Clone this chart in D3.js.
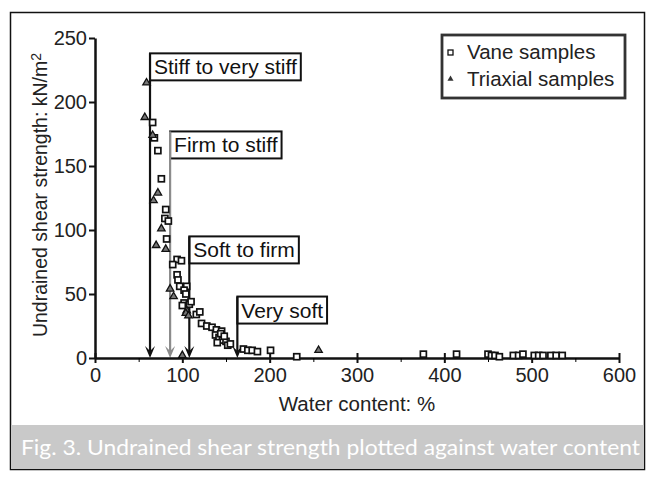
<!DOCTYPE html>
<html>
<head>
<meta charset="utf-8">
<script src="https://cdn.jsdelivr.net/npm/d3@7"></script>
<style>
  body { margin: 0; background: #fff; }
  svg { display: block; }
</style>
</head>
<body>
<div id="chart"></div>
<script>
// water content (%), undrained shear strength (kN/m2)
const vane = [
  [66,184],[68,172],[72,162],[76,140],[81,116],[80,109],[84,107],[82,93],
  [94,77],[99,76],[89,73],[94,65],[95,61],[97,56],[105,56],[102,53],[104,50],
  [102,43],[108,42],[100,41],[110,44],[116,34],[120,36],[122,27],[128,25],
  [134,24],[139,22],[145,21],[138,18],[142,16],[146,14],[140,12],[150,13],
  [152,10],[144,19],[148,17],[155,11],
  [170,7],[175,6],[180,6],[186,5],[201,6],[231,1],[376,3],[414,3],
  [450,3],[454,2],[458,2],[463,1],[479,2],[485,2],[490,3],[503,2],[508,2],
  [513,2],[522,2],[528,2],[535,2]
];
const triaxial = [
  [59,215],[57,188],[66,174],[72,129],[67,123],[76,101],[70,88],[81,85],
  [86,54],[90,48],[105,37],[104,35],[107,33],[100,2],[256,6]
];
const xTicks = [0,100,200,300,400,500,600];
const xMinor = [50,150,250,350,450,550];
const yTicks = [0,50,100,150,200,250];
const zoneNames = ["Stiff to very stiff","Firm to stiff","Soft to firm","Very soft"];
const zoneWater = [63,86,108,163];
const zoneTop = [238,177,95,48];

const width = 655, height = 480;
const svg = d3.select("#chart").append("svg")
  .attr("width", width).attr("height", height);

const x = d3.scaleLinear().domain([0,600]).range([95,619]);
const y = d3.scaleLinear().domain([0,250]).range([358,38]);

// frame and caption band
svg.append("rect").attr("x",10.5).attr("y",12.5).attr("width",634).attr("height",457)
  .attr("fill","none").attr("stroke","#111").attr("stroke-width",1.5);
svg.append("rect").attr("x",11).attr("y",425).attr("width",633).attr("height",44)
  .attr("fill","#c9c9c9");
svg.append("text").attr("x",21).attr("y",455)
  .style("font-family","Lato, 'Open Sans', sans-serif").style("font-size","22px")
  .attr("fill","#fff").attr("textLength",619).attr("lengthAdjust","spacingAndGlyphs")
  .text("Fig. 3.  Undrained shear strength plotted against water content");

const font = "'Liberation Sans', Arial, sans-serif";

// zone lines, arrows and labelled boxes
const arrow = "M-5,-12 L0,0 L5,-12 L0,-7 Z";
zoneNames.forEach((name, i) => {
  const lx = x(zoneWater[i]);
  const top = y(zoneTop[i]);
  const col = i === 1 ? "#8c8c8c" : "#111";
  const t = svg.append("text").attr("x", lx + 4).attr("y", top + 21)
    .style("font-family", font).style("font-size","21px").attr("fill","#111")
    .text(name);
  const w = t.node().getComputedTextLength();
  svg.insert("rect","text").attr("x", lx).attr("y", top)
    .attr("width", w + 8).attr("height", 27)
    .attr("fill","#fff").attr("stroke","#111").attr("stroke-width",2);
  svg.append("line").attr("x1", lx).attr("x2", lx).attr("y1", top).attr("y2", y(0) - 4)
    .attr("stroke", col).attr("stroke-width", 2.2);
  svg.append("path").attr("d", arrow).attr("transform", `translate(${lx},${y(0)})`)
    .attr("fill", col);
});

// axes
const xAxis = svg.append("g").attr("transform", `translate(0,${y(0)})`)
  .call(d3.axisBottom(x).tickValues(xTicks).tickSize(5).tickSizeOuter(0));
xAxis.selectAll(".tick line").attr("y1",-5);
svg.append("g").attr("transform", `translate(0,${y(0)})`)
  .call(d3.axisBottom(x).tickValues(xMinor).tickSize(4).tickFormat("").tickSizeOuter(0))
  .select(".domain").remove();
const yAxis = svg.append("g").attr("transform", `translate(${x(0)},0)`)
  .call(d3.axisLeft(y).tickValues(yTicks).tickSize(6).tickSizeOuter(0));
[xAxis, yAxis].forEach(a => {
  a.select(".domain").attr("stroke","#111").attr("stroke-width",2.5);
  a.selectAll(".tick line").attr("stroke","#111").attr("stroke-width",2);
  a.selectAll(".tick text").style("font-family", font).style("font-size","20px").attr("fill","#222");
});
xAxis.selectAll(".tick text").attr("dy","0.8em");
yAxis.selectAll(".tick text").attr("dx","0.05em");

svg.append("text").attr("x", 357).attr("y", 411).attr("text-anchor","middle")
  .style("font-family", font).style("font-size","20.5px").attr("fill","#222")
  .text("Water content: %");
const yl = svg.append("text").attr("transform","translate(47,195) rotate(-90)")
  .attr("text-anchor","middle")
  .style("font-family", font).style("font-size","19.5px").attr("fill","#222");
yl.append("tspan").text("Undrained shear strength: kN/m");
yl.append("tspan").attr("dy","-0.45em").style("font-size","14px").text("2");

// data
svg.append("g").selectAll("rect").data(vane).join("rect")
  .attr("x", d => x(d[0]) - 3).attr("y", d => y(d[1]) - 3)
  .attr("width",6).attr("height",6)
  .attr("fill","#fff").attr("stroke","#111").attr("stroke-width",1.7);
svg.append("g").selectAll("path").data(triaxial).join("path")
  .attr("d", d3.symbol(d3.symbolTriangle, 24))
  .attr("transform", d => `translate(${x(d[0])},${y(d[1])})`)
  .attr("fill","#777").attr("stroke","#111").attr("stroke-width",1.3);

// legend
svg.append("rect").attr("x",442).attr("y",35).attr("width",183).attr("height",63)
  .attr("fill","#fff").attr("stroke","#333").attr("stroke-width",2.8);
svg.append("rect").attr("x",448).attr("y",50).attr("width",5).attr("height",5)
  .attr("fill","#fff").attr("stroke","#111").attr("stroke-width",1.3);
svg.append("path").attr("d", d3.symbol(d3.symbolTriangle, 16))
  .attr("transform","translate(450.5,79)").attr("fill","#333");
svg.append("text").attr("x",467).attr("y",59).style("font-family",font)
  .style("font-size","20.5px").attr("fill","#222").text("Vane samples");
svg.append("text").attr("x",467).attr("y",86).style("font-family",font)
  .style("font-size","20.5px").attr("fill","#222").text("Triaxial samples");
</script>
</body>
</html>
